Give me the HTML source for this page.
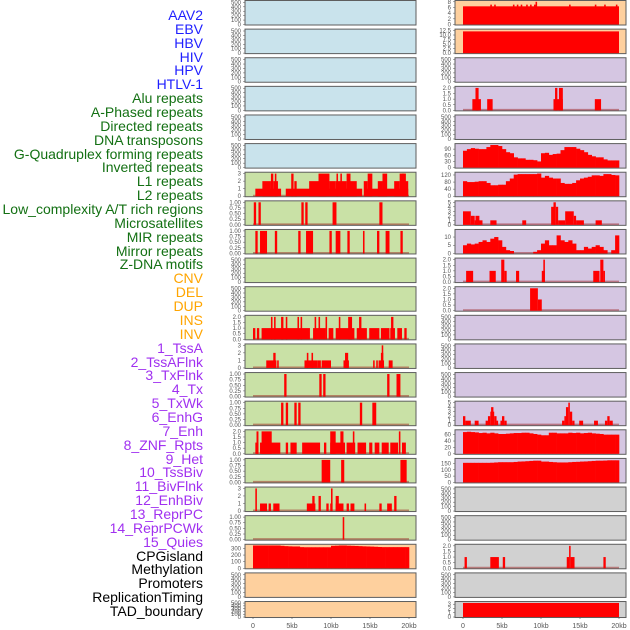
<!DOCTYPE html>
<html><head><meta charset="utf-8">
<style>
body{margin:0;background:#fff;width:630px;height:630px;overflow:hidden;font-family:"Liberation Sans",sans-serif;}
.lab{position:absolute;right:427px;font-size:14px;line-height:14px;white-space:nowrap;text-align:right;}
</style></head><body>
<div id="labels"></div>
<svg id="chart" width="630" height="630" style="position:absolute;left:0;top:0"></svg>
<script>
// ---- labels ----
const trackLabels=["AAV2","EBV","HBV","HIV","HPV","HTLV-1","Alu repeats","A-Phased repeats","Directed repeats","DNA transposons","G-Quadruplex forming repeats","Inverted repeats","L1 repeats","L2 repeats","Low_complexity A/T rich regions","Microsatellites","MIR repeats","Mirror repeats","Z-DNA motifs","CNV","DEL","DUP","INS","INV","1_TssA","2_TssAFlnk","3_TxFlnk","4_Tx","5_TxWk","6_EnhG","7_Enh","8_ZNF_Rpts","9_Het","10_TssBiv","11_BivFlnk","12_EnhBiv","13_ReprPC","14_ReprPCWk","15_Quies","CPGisland","Methylation","Promoters","ReplicationTiming","TAD_boundary"];
const labelGroups=[6,13,5,15,5];
const groupColors=["#1f1fff","#137013","#ffa500","#a030f0","#000"];
// ---- data (segments: [startKb,endKb,value]; bins: value per 0.5kb) ----
const segL7=[[0.3,3.6,1],[4.2,14.0,1],[14.3,19.9,1],[1.2,2.3,2],[2.3,2.6,3],[2.6,3.2,2],[2.8,3.0,3],[4.9,5.2,3],[5.3,5.6,2],[7.2,9.4,2],[8.4,9.8,3],[9.8,10.6,2],[10.6,12,2],[10.7,10.9,3],[11.2,11.4,3],[12.0,12.5,3],[12.5,13.3,2],[14.2,14.7,2],[14.7,15.3,3],[16.0,16.6,2],[16.6,17.2,3],[18.1,18.8,2],[18.8,19.4,3],[19.4,19.9,2],[19.1,19.6,3]];
const segL8=[[0.1,0.4,1],[0.7,1.0,1],[6.2,6.5,1],[6.7,7.0,1],[10.2,10.7,1],[16.2,16.6,1]];
const segL9=[[0.3,0.6,1],[0.9,1.6,1],[1.6,1.8,1],[2.8,3.1,1],[5.8,6.1,1],[6.8,7.7,1],[9.8,10.1,1],[10.6,11.2,1],[12.1,12.4,1],[14.1,14.3,1],[15.9,16.2,1],[17.0,17.5,1],[18.9,19.2,1]];
const segL12=[[0,0.3,1],[0.5,0.8,1],[1.1,7.3,1],[7.7,9.3,1],[9.7,10.3,1],[10.6,13,1],[13.3,14.6,1],[14.9,16.2,1],[16.4,17.5,1],[17.6,18.2,1],[18.5,19.1,1],[19.4,19.7,1],[2.3,2.5,2],[2.7,2.9,2],[3.6,3.9,2],[4.2,4.4,2],[5.7,5.9,2],[6.1,6.3,2],[7.9,8.1,2],[8.4,8.6,2],[9.3,9.5,2],[11.0,11.2,2],[12.2,12.7,2],[13.6,13.9,2],[17.7,18.0,2]];
const segL13=[[1.7,3.0,1],[2.6,2.9,2],[3.1,3.3,1],[6.6,8.3,1],[6.9,7.1,2],[7.5,7.7,2],[8.3,8.7,1],[8.8,10.0,1],[11.6,12.3,1],[11.8,12.2,2],[15.4,15.6,1],[15.8,16.0,1],[16.1,16.8,1],[16.4,16.7,2],[16.5,16.7,3],[17.4,17.9,1]];
const segL14=[[4.0,4.3,1],[8.5,8.8,1],[9.0,9.3,1],[17.2,17.5,1],[18.4,18.9,1]];
const segL15=[[3.6,3.9,1],[4.2,4.5,1],[5.3,5.6,1],[5.8,6.1,1],[13.7,14.0,1],[15.3,15.8,1]];
const segL16=[[0.3,0.7,1],[0.9,3.5,1],[4.2,4.5,1],[4.8,5.6,1],[6.3,8.6,1],[9.1,9.4,1],[9.9,11.8,1],[12.0,13.1,1],[13.4,14.5,1],[14.9,15.3,1],[15.6,16.2,1],[16.5,17.4,1],[17.6,18.6,1],[19.1,19.6,1],[0.45,0.7,2],[1.1,2.4,2],[9.9,10.6,2],[11.2,11.6,2],[12.8,13.0,2],[18.7,18.9,2]];
const segL17=[[8.8,9.9,1],[11.3,11.7,1],[18.9,19.7,1]];
const segL18=[[0.3,0.5,3],[0.9,1.8,1],[2.0,2.3,1],[2.6,3.4,1],[6.9,8.0,1],[7.6,7.9,2],[8.4,8.7,2],[9.4,9.7,1],[9.9,10.2,1],[10.0,10.2,3],[10.6,11.0,2],[10.6,11.6,1],[12.0,12.3,1],[12.5,13.0,1],[14.3,14.5,1],[16.2,16.5,1],[17.2,17.8,1],[18.1,18.4,2]];
const segL19=[[11.5,11.7,1]];
const binL20=[345,345,345,345,345,345,345,340,335,332,330,330,320,318,318,318,318,318,318,318,340,342,345,345,342,340,338,335,332,330,328,325,322,320,320,320,320,320,320,320];
const segR1=[[0,20,6.4],[3.5,3.7,7],[4.0,4.2,7],[6.4,6.6,7],[6.9,7.1,7],[7.4,7.6,7],[8.1,8.3,7],[8.6,8.8,7],[9.1,9.3,7],[9.3,9.5,8],[13.6,13.8,7],[16.9,17.1,7],[18.1,18.3,7],[19.6,19.8,7]];
const segR2=[[0,20,12]];
const segR4=[[1.2,2.3,1],[1.6,2.0,2],[3.1,3.8,1],[11.6,12.8,1],[11.8,12.1,2],[12.3,12.8,2],[16.9,17.7,1]];
const binR6=[82,90,95,92,90,90,100,110,110,105,90,75,70,50,45,45,38,38,36,30,70,72,62,66,68,85,100,100,100,92,85,75,62,55,50,50,40,35,35,35];
const binR7=[85,80,80,82,85,85,75,62,62,65,65,85,100,122,125,125,125,125,125,128,105,115,105,100,100,75,70,70,75,90,100,105,110,118,118,115,125,125,120,118];
const segR8=[[0,1,3],[1,1.5,2],[1.5,2.0,1],[1.6,2.1,2],[2.0,2.5,1],[3.5,4.3,1],[7.6,8.1,1],[11.3,11.8,4],[11.6,11.9,5],[11.9,12.2,4],[12.2,13.1,1],[13.1,14.2,3],[14.2,14.5,2],[14.5,15.5,1],[17.0,17.8,1]];
const binR9=[5,6,5.5,6,7,8,7,9,10,8,4,2,1.5,0,0,0,0,0,1,2,6,8,5,5,11,8,7,8,6,2,2,4,3,4,5,4,2,0,2,11];
const segR10=[[0.4,1.3,1],[3.4,4.2,1],[4.9,5.3,2],[5.3,5.6,1],[6.8,7.2,1],[10.1,10.5,1],[10.3,10.5,2],[16.7,17.5,1],[17.6,18.0,2],[18.0,18.2,1]];
const segR11=[[8.6,9.6,2],[9.6,10.1,1]];
const segR15=[[0,0.3,2],[0.3,1.0,1],[1.5,2.0,1],[2.9,3.2,1],[3.2,3.5,2],[3.5,4.0,3],[3.6,3.9,4],[4.0,4.3,2],[4.3,4.5,1],[4.8,5.0,1],[5.0,5.3,2],[5.3,5.6,1],[12.7,13.0,1],[13.0,13.2,2],[13.2,13.5,4],[13.5,13.7,5],[13.7,14.0,3],[14.0,14.3,1],[14.9,15.4,1],[16.8,17.3,1],[18.2,18.5,1],[18.5,18.8,2],[18.8,19.2,1]];
const binR16=[68,69,68,67,65,66,64,66,64,62,62,63,64,65,65,66,66,64,62,60,58,58,66,66,64,64,64,66,65,66,64,65,66,64,63,62,60,60,60,60];
const binR17=[155,155,155,155,155,155,155,156,158,160,160,160,160,162,165,166,168,170,172,172,165,165,162,160,158,158,158,160,162,163,165,166,168,170,172,172,173,175,175,175];
const segR20=[[0.2,0.5,1],[3.5,4.6,1],[5.1,5.4,1],[13.3,13.6,1],[13.6,13.8,2],[13.8,14.3,1],[18.0,18.3,1]];
const segR22=[[0,20,3.3]];
const xTickVals=[0,5,10,15,20];
const xTickText=["0","5kb","10kb","15kb","20kb"];
// ---- track config ----
const BG={b:"#c9e3ec",g:"#c9e1a6",o:"#fed09e",p:"#d5c6e2",y:"#d1d1d1"};
const E=[0,100,200,300,400,500];
const T01=[0,0.25,0.5,0.75,1];
const T2=[0,0.5,1,1.5,2];
const left=[
 ["b",520,E],["b",520,E],["b",520,E],["b",520,E],["b",520,E],["b",520,E],
 ["g",3.05,[0,1,2,3],segL7],["g",1.02,T01,segL8],["g",1.02,T01,segL9],["g",520,E],["g",520,E],
 ["g",2.05,T2,segL12],["g",3.05,[0,1,2,3],segL13],["g",1.02,T01,segL14],["g",1.02,T01,segL15],
 ["g",2.05,T2,segL16],["g",1.02,T01,segL17],["g",3.05,[0,1,2,3],segL18],["g",1.02,T01,segL19],
 ["o",348,[0,100,200,300],null,binL20],["o",520,E],["o",520,E]];
const right=[
 ["o",8.1,[0,2,4,6,8],segR1],["o",12.7,[0,2.5,5,7.5,10,12.5],segR2],["p",520,E],["p",2.05,T2,segR4],["p",520,E],
 ["p",112,[0,30,60,90],null,binR6],["p",130,[0,40,80,120],null,binR7],["p",5.1,[0,1,2,3,4,5],segR8],
 ["p",14,[0,5,10],null,binR9],["p",2.05,T2,segR10],["p",2.05,T2,segR11],["p",520,E],["p",520,E],["p",520,E],
 ["p",5.1,[0,1,2,3,4,5],segR15],["p",72,[0,20,40,60],null,binR16],["p",182,[0,50,100,150],null,binR17],
 ["y",520,E],["y",520,E],["y",2.05,T2,segR20],["y",520,E],["y",3.4,[0,1,2,3],segR22]];

const NS="http://www.w3.org/2000/svg";
const svg=document.getElementById('chart');
function mk(tag,attrs,parent){const e=document.createElementNS(NS,tag);for(const k in attrs)e.setAttribute(k,attrs[k]);(parent||svg).appendChild(e);return e;}
// labels
const lab=document.getElementById('labels');
let li=0;
labelGroups.forEach((n,g)=>{for(let k=0;k<n;k++){const d=document.createElement('div');d.className='lab';d.style.top=(8+li*13.86)+'px';d.style.color=groupColors[g];d.textContent=trackLabels[li];


lab.appendChild(d);li++;}});
function fmt(v,ticks){const dec=ticks.some(t=>Math.round(t*100)%100!==0)?(ticks.some(t=>Math.round(t*100)%10!==0)?2:1):0;return v.toFixed(dec);}
function drawCol(tracks,px,x0,colName){
 tracks.forEach((t,i)=>{
  const top=i===0?0.5:0.5+i*28.62, h=i===21?16:24.5, bot=top+h;
  const g=mk('g',{});
  
  
  mk('rect',{x:px,y:top,width:171,height:h,fill:BG[t[0]],stroke:'#5e5e5e','stroke-width':1},g);
  const max=t[1];
  const xs=kb=>x0+7.8*kb;
  const ys=v=>bot-0.5-(v/max)*(h-1.5);
  t[2].forEach(v=>{const tx=mk('text',{x:px-4,y:ys(v)+2,'font-size':6,fill:'#555','text-anchor':'end'},g);tx.textContent=fmt(v,t[2]);
   mk('line',{x1:px-2,x2:px,y1:ys(v),y2:ys(v),stroke:'#555','stroke-width':0.5},g);});
  if(t[3]||t[4]){
   mk('line',{x1:xs(0),x2:xs(20),y1:bot-1.2,y2:bot-1.2,stroke:'rgba(150,20,20,0.45)','stroke-width':1.6},g);
   if(t[3])t[3].forEach(s=>{const r=mk('rect',{x:xs(s[0]),y:ys(s[2]),width:Math.max(1,xs(s[1])-xs(s[0])),height:ys(0)-ys(s[2]),fill:'#ff0000'},g);
    
    });
   if(t[4])t[4].forEach((v,k)=>{const r=mk('rect',{x:xs(k*0.5),y:ys(v),width:7.8*0.5+0.3,height:ys(0)-ys(v),fill:'#ff0000'},g);
    
    });
  }
 });
 xTickVals.forEach((v,k)=>{const x=x0+7.8*v;mk('line',{x1:x,x2:x,y1:617,y2:619,stroke:'#555','stroke-width':0.6});
  const tx=mk('text',{x:x,y:628,'font-size':7,fill:'#555','text-anchor':'middle'});tx.textContent=xTickText[k];
  
  });
}
drawCol(left,245,253,'left');
drawCol(right,455,463,'right');
</script>
</body></html>
